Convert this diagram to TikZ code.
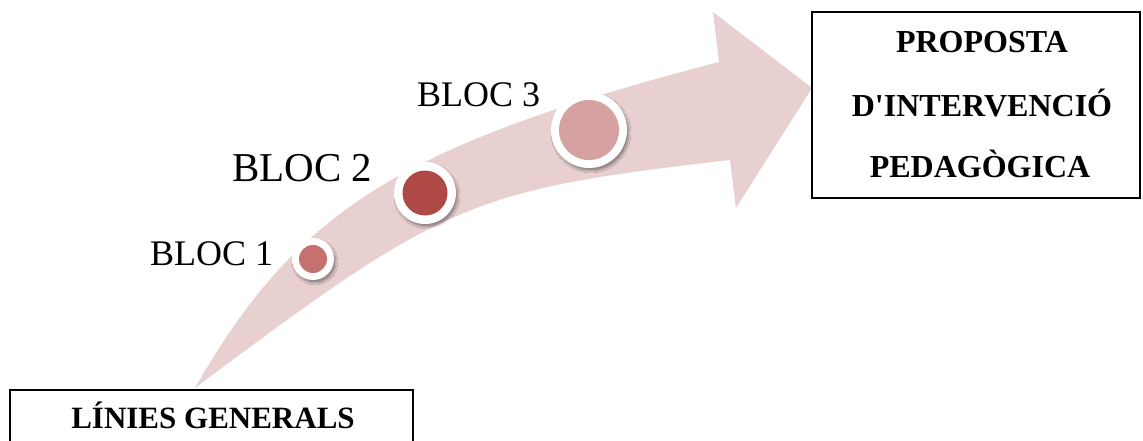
\documentclass[tikz,border=0pt]{standalone}
\usepackage{fontspec}
\setmainfont{Liberation Serif}
\usetikzlibrary{shadows.blur}
\definecolor{arrowcol}{HTML}{E8D0D1}
\definecolor{dotone}{HTML}{C4716F}
\definecolor{dottwo}{HTML}{AE4945}
\definecolor{dotthree}{HTML}{D6A1A1}
\tikzset{
  ring/.style={circle, fill=white, inner sep=0pt,
    blur shadow={shadow xshift=2pt, shadow yshift=-3pt, shadow opacity=35, shadow blur steps=6}},
  dot/.style={circle, inner sep=0pt},
  blocl/.style={inner sep=0pt, anchor=base west},
  boxline/.style={draw=black, line width=2pt},
  boxtext/.style={inner sep=0pt, anchor=base, font=\bfseries\fontsize{32}{38}\selectfont}
}
\begin{document}
\begin{tikzpicture}[x=1pt,y=-1pt]
\useasboundingbox (0,0) rectangle (1143,441);
% curved arrow
\coordinate (tail) at (195,388);
\coordinate (su) at (719,62);
\coordinate (bu) at (713,12);
\coordinate (tip) at (812,88);
\coordinate (bl) at (736,208);
\coordinate (sl) at (730,160);
\fill[arrowcol] (tail) .. controls (296.9,209.7) and (401.7,144.5) .. (su)
  -- (bu) -- (tip) -- (bl) -- (sl)
  .. controls (470.8,189.8) and (444.1,201.2) .. (tail) -- cycle;
% circles
\node[ring, minimum size=42pt] (r1) at (313,259) {};
\node[dot, fill=dotone, minimum size=28pt] (d1) at (r1.center) {};
\node[ring, minimum size=62pt] (r2) at (425,193) {};
\node[dot, fill=dottwo, minimum size=45pt] (d2) at (r2.center) {};
\node[ring, minimum size=76pt] (r3) at (589,130) {};
\node[dot, fill=dotthree, minimum size=60pt] (d3) at (r3.center) {};
% labels
\node[blocl, font=\fontsize{36}{43}\selectfont] (l1) at (150,265) {BLOC 1};
\node[blocl, font=\fontsize{41}{49}\selectfont] (l2) at (232,182) {BLOC 2};
\node[blocl, font=\fontsize{36}{43}\selectfont] (l3) at (417,107) {BLOC 3};
% boxes
\draw[boxline] (10,390) rectangle (413,460);
\node[boxtext, font=\bfseries\fontsize{31}{37}\selectfont] (lg) at (213,428) {LÍNIES GENERALS};
\draw[boxline] (812,12) rectangle (1140,198);
\node[boxtext] (p1) at (982,53) {PROPOSTA};
\node[boxtext] (p2) at (982,117) {D\textquotesingle INTERVENCIÓ};
\node[boxtext] (p3) at (980,177) {PEDAGÒGICA};
\end{tikzpicture}
\end{document}
